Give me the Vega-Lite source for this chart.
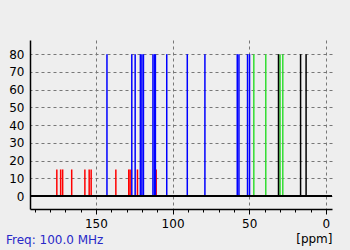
{
  "$schema": "https://vega.github.io/schema/vega-lite/v6.json",
  "autosize": "none",
  "width": 302,
  "height": 169,
  "padding": {"left": 30, "top": 40, "right": 18, "bottom": 41},
  "background": "#eeeeee",
  "config": {
    "view": {"stroke": null},
    "font": "DejaVu Sans",
    "axis": {"labelFont": "DejaVu Sans", "titleFont": "DejaVu Sans", "labelColor": "#000000", "titleColor": "#000000", "domainColor": "#000000", "tickColor": "#000000"}
  },
  "title": {
    "text": "Freq: 100.0 MHz",
    "orient": "bottom",
    "anchor": "start",
    "frame": "group",
    "offset": -9,
    "dx": -24,
    "fontSize": 12,
    "fontWeight": "normal",
    "color": "#2828c8",
    "font": "DejaVu Sans"
  },
  "data": {
    "values": [
      {"ppm": 175.5, "type": "C", "intensity": 15},
      {"ppm": 173.0, "type": "C", "intensity": 15},
      {"ppm": 171.7, "type": "C", "intensity": 15},
      {"ppm": 165.8, "type": "C", "intensity": 15},
      {"ppm": 157.2, "type": "C", "intensity": 15},
      {"ppm": 154.4, "type": "C", "intensity": 15},
      {"ppm": 153.1, "type": "C", "intensity": 15},
      {"ppm": 137.0, "type": "C", "intensity": 15},
      {"ppm": 128.6, "type": "C", "intensity": 15},
      {"ppm": 127.7, "type": "C", "intensity": 15},
      {"ppm": 122.9, "type": "C", "intensity": 15},
      {"ppm": 110.7, "type": "C", "intensity": 15},
      {"ppm": 142.8, "type": "CH", "intensity": 80},
      {"ppm": 126.6, "type": "CH", "intensity": 80},
      {"ppm": 124.4, "type": "CH", "intensity": 80},
      {"ppm": 121.0, "type": "CH", "intensity": 80},
      {"ppm": 120.0, "type": "CH", "intensity": 80},
      {"ppm": 119.0, "type": "CH", "intensity": 80},
      {"ppm": 112.8, "type": "CH", "intensity": 80},
      {"ppm": 111.8, "type": "CH", "intensity": 80},
      {"ppm": 111.2, "type": "CH", "intensity": 80},
      {"ppm": 103.8, "type": "CH", "intensity": 80},
      {"ppm": 90.4, "type": "CH", "intensity": 80},
      {"ppm": 78.9, "type": "CH", "intensity": 80},
      {"ppm": 57.8, "type": "CH", "intensity": 80},
      {"ppm": 56.7, "type": "CH", "intensity": 80},
      {"ppm": 51.1, "type": "CH", "intensity": 80},
      {"ppm": 49.8, "type": "CH", "intensity": 80},
      {"ppm": 47.0, "type": "CH2", "intensity": 80},
      {"ppm": 39.2, "type": "CH2", "intensity": 80},
      {"ppm": 29.9, "type": "CH2", "intensity": 80},
      {"ppm": 28.1, "type": "CH2", "intensity": 80},
      {"ppm": 30.9, "type": "CH3", "intensity": 80},
      {"ppm": 16.5, "type": "CH3", "intensity": 80},
      {"ppm": 12.9, "type": "CH3", "intensity": 80}
    ]
  },
  "resolve": {"axis": {"y": "independent"}},
  "layer": [
    {
      "mark": {"type": "rule", "strokeWidth": 1.5},
      "encoding": {
        "x": {
          "field": "ppm",
          "type": "quantitative",
          "scale": {"domain": [-4, 193], "reverse": true, "nice": false, "zero": false},
          "axis": {
            "values": [0, 10, 20, 30, 40, 50, 60, 70, 80, 90, 100, 110, 120, 130, 140, 150, 160, 170, 180, 190],
            "labelExpr": "datum.value % 50 === 0 ? datum.label : ''",
            "tickSize": {"condition": {"test": "datum.value % 50 === 0", "value": 5}, "value": 3},
            "grid": true,
            "gridOpacity": {"condition": {"test": "datum.value % 50 === 0", "value": 1}, "value": 0},
            "gridColor": "#777777",
            "gridDash": [3, 3],
            "gridWidth": 1,
            "labelFontSize": 12,
            "labelPadding": 4,
            "labelFlush": false,
            "labelOverlap": false,
            "title": "[ppm]",
            "titleFontSize": 12,
            "titleFontWeight": "normal",
            "titleAnchor": "start",
            "titleAlign": "right",
            "titlePadding": 4,
            "domainWidth": 1.5
          }
        },
        "y": {
          "field": "intensity",
          "type": "quantitative",
          "scale": {"domain": [-7.3, 88], "nice": false, "zero": false},
          "axis": {
            "values": [0, 10, 20, 30, 40, 50, 60, 70, 80],
            "ticks": false,
            "labelPadding": 6,
            "labelFontSize": 12,
            "labelOverlap": false,
            "labelFlush": false,
            "grid": true,
            "gridColor": "#777777",
            "gridDash": [3, 3],
            "gridWidth": 1,
            "title": null,
            "domainWidth": 1.5
          }
        },
        "y2": {"datum": 0},
        "color": {
          "field": "type",
          "type": "nominal",
          "scale": {"domain": ["C", "CH", "CH2", "CH3"], "range": ["#ff0000", "#0000ff", "#33dd33", "#000000"]},
          "legend": null
        }
      }
    },
    {
      "mark": {"type": "rule", "color": "#000000", "strokeWidth": 1.5},
      "encoding": {"y": {"datum": 0, "type": "quantitative", "axis": null}}
    }
  ]
}
